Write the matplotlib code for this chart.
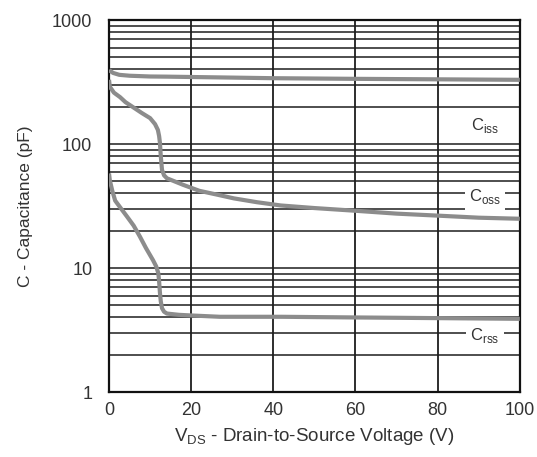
import matplotlib.pyplot as plt

plt.rcParams['font.family'] = ['Liberation Sans', 'DejaVu Sans']
plt.rcParams['mathtext.fontset'] = 'custom'
plt.rcParams['mathtext.rm'] = 'Liberation Sans'

# curves (V, pF)
v_iss = [0, 1, 2.5, 5, 10, 14, 27, 40, 60, 80, 100]
c_iss = [395, 375, 362, 356, 351, 350, 345, 340, 336, 333, 330]

v_oss = [0, 0.2, 1.2, 2.7, 4, 5.8, 8, 10, 11.2, 11.9, 12.2, 12.4, 12.6, 12.9, 13.4, 14.1, 16, 18, 22, 26.5, 30.4, 36, 41.8, 50, 60, 70, 80, 90, 100]
c_oss = [330, 290, 260, 239, 218, 199, 178, 162, 145, 130, 116, 102, 80, 62, 56, 53, 50, 47, 42, 39, 36.5, 34, 32, 30.5, 29, 27.5, 26.5, 25.5, 25]

v_rss = [0, 0.2, 0.8, 1.5, 3, 4.4, 6, 7.5, 9, 10.7, 11.5, 12, 12.2, 12.4, 12.6, 12.9, 13.4, 14.1, 17, 20, 27, 42, 60, 80, 100]
c_rss = [58, 51, 42, 35, 30, 26, 22, 18, 14.5, 11.6, 10.3, 9.1, 7.8, 6.3, 5.4, 4.75, 4.45, 4.3, 4.2, 4.15, 4.05, 4.05, 4.0, 3.95, 3.9]

labels = {'iss': (91.5, 140), 'oss': (91.5, 37.5), 'rss': (91.5, 2.85)}

fig = plt.figure(figsize=(5.37, 4.57), dpi=100)
ax = fig.add_axes([0.203, 0.142, 0.765, 0.814])
ax.set_yscale('log')
ax.set_xlim(0, 100)
ax.set_ylim(1, 1000)

ax.grid(True, which='both', axis='y', color='#1e1e1e', lw=1.1)
ax.grid(True, which='major', axis='x', color='#1e1e1e', lw=1.3)
ax.set_axisbelow(True)
for s in ax.spines.values():
    s.set_linewidth(1.6)
    s.set_color('#111111')

for v, c in [(v_iss, c_iss), (v_oss, c_oss), (v_rss, c_rss)]:
    ax.plot(v, c, color='#8c8c8c', lw=3, solid_capstyle='butt', zorder=3)

for name, (x, y) in labels.items():
    ax.text(x, y, 'C$_{\\mathregular{' + name + '}}$', fontsize=12, color='#333333',
            ha='center', va='center', zorder=4,
            bbox=dict(facecolor='white', edgecolor='none', pad=3))

ax.set_xticks([0, 20, 40, 60, 80, 100])
ax.set_yticks([1, 10, 100, 1000])
ax.set_yticklabels(['1', '10', '100', '1000'])
ax.yaxis.set_minor_formatter(plt.NullFormatter())
ax.tick_params(which='both', length=0, labelsize=13, labelcolor='#333333')
ax.tick_params(axis='y', pad=12)
ax.tick_params(axis='x', pad=7)

ax.set_xlabel('V$_{\\mathregular{DS}}$ - Drain-to-Source Voltage (V)', fontsize=13.5, color='#333333', labelpad=5)
ax.set_ylabel('C - Capacitance (pF)', fontsize=12.5, color='#333333', labelpad=14)

fig.savefig('out.png', dpi=100)
